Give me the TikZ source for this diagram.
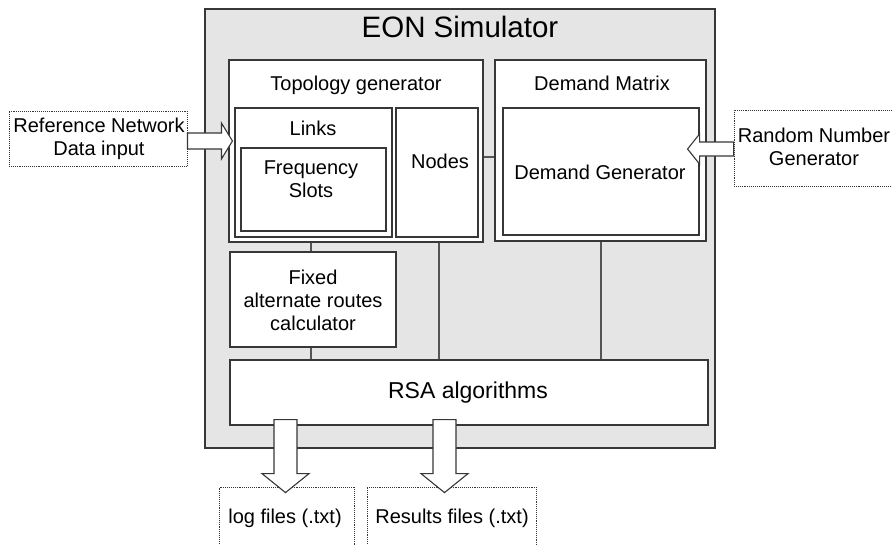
\documentclass[tikz,border=0pt]{standalone}
\usepackage{fontspec}
\setmainfont{Liberation Sans}
\usetikzlibrary{fit}
\definecolor{outerfill}{RGB}{229,229,229}
\definecolor{edge}{RGB}{55,55,55}
\definecolor{conn}{RGB}{85,85,85}
\begin{document}
\begin{tikzpicture}[x=1pt,y=-1pt,
  box/.style={draw=edge, line width=1.2pt, fill=white, inner sep=0pt},
  outerbox/.style={draw=edge, line width=1.2pt, fill=outerfill, inner sep=0pt},
  dotbox/.style={draw=edge, densely dotted, line width=0.9pt, fill=white, inner sep=0pt},
  txt/.style={font=\fontsize{20}{23}\selectfont, align=center, inner sep=0pt},
  link/.style={draw=conn, line width=1.3pt},
  blockarr/.style={draw=edge, line width=1.1pt, fill=white, line join=miter}
]
\useasboundingbox (0,0) rectangle (892,544);
% outer simulator box
\node[outerbox, fit={(205,9) (715,448)}] (eon) {};
\node[txt, font=\fontsize{29.5}{33}\selectfont] (eonlbl) at (460,27) {EON Simulator};
% external boxes
\node[dotbox, fit={(9,111) (187,166)}] (ref) {};
\node[txt] (reflbl) at (99,139) {Reference Network\\Data input};
\node[dotbox, fit={(734,110) (905,186)}] (rng) {};
\node[txt] (rnglbl) at (814,146.5) {Random Number\\Generator};
\node[dotbox, fit={(219,487) (354,549)}] (log) {};
\node[txt] (loglbl) at (285,518) {log files (.txt)};
\node[dotbox, fit={(367,487) (536,549)}] (res) {};
\node[txt] (reslbl) at (452,518) {Results files (.txt)};
% topology generator
\node[box, fit={(229,60) (483,242)}] (topo) {};
\node[txt] (topolbl) at (356,85) {Topology generator};
\node[box, fit={(235,108) (392,237)}] (links) {};
\node[txt] (linkslbl) at (313,128) {Links};
\node[box, fit={(241,148) (386,231)}] (freq) {};
\node[txt] (freqlbl) at (311,179) {Frequency\\Slots};
\node[box, fit={(396,108) (478,237)}] (nodesbox) {};
\node[txt] (nodeslbl) at (440,161) {Nodes};
% demand matrix
\node[box, fit={(495,60) (706,241)}] (dm) {};
\node[txt] (dmlbl) at (602,83) {Demand Matrix};
\node[box, fit={(503,108) (699,235)}] (dg) {};
\node[txt] (dglbl) at (600,172) {Demand Generator};
% fixed routes and RSA
\node[box, fit={(230,252) (396,347)}] (fixed) {};
\node[txt] (fixedlbl) at (313,300) {Fixed\\alternate routes\\calculator};
\node[box, fit={(230,360) (708,425)}] (rsa) {};
\node[txt, font=\fontsize{23}{26}\selectfont] (rsalbl) at (468,393) {RSA algorithms};
% helper coordinates
\coordinate (xa) at (311,0);
\coordinate (xb) at (439,0);
\coordinate (xc) at (601,0);
\coordinate (xd) at (285.5,0);
\coordinate (xe) at (444.5,0);
\coordinate (ya) at (0,141);
\coordinate (yb) at (0,149);
\coordinate (yc) at (0,157);
% connectors
\draw[link] (topo.south -| xa) -- (fixed.north -| xa);
\draw[link] (fixed.south -| xa) -- (rsa.north -| xa);
\draw[link] (topo.south -| xb) -- (rsa.north -| xb);
\draw[link] (dm.south -| xc) -- (rsa.north -| xc);
\draw[link] (topo.east |- yc) -- (dm.west |- yc);
% block arrows
\draw[blockarr] (ref.east |- ya) ++(0,-8) -- ++(34,0) -- ++(0,-10) -- ++(11,18) -- ++(-11,18) -- ++(0,-10) -- ++(-34,0) -- cycle;
\draw[blockarr] (rng.west |- yb) ++(0,-7) -- ++(-34,0) -- ++(0,-8) -- ++(-12,15) -- ++(12,15) -- ++(0,-8) -- ++(34,0) -- cycle;
\draw[blockarr] (rsa.south -| xd) ++(-11.5,-6) -- ++(0,54) -- ++(-12,0) -- ++(23.5,19) -- ++(23.5,-19) -- ++(-12,0) -- ++(0,-54) -- cycle;
\draw[blockarr] (rsa.south -| xe) ++(-11.5,-6) -- ++(0,54) -- ++(-12,0) -- ++(23.5,19) -- ++(23.5,-19) -- ++(-12,0) -- ++(0,-54) -- cycle;
\end{tikzpicture}
\end{document}
